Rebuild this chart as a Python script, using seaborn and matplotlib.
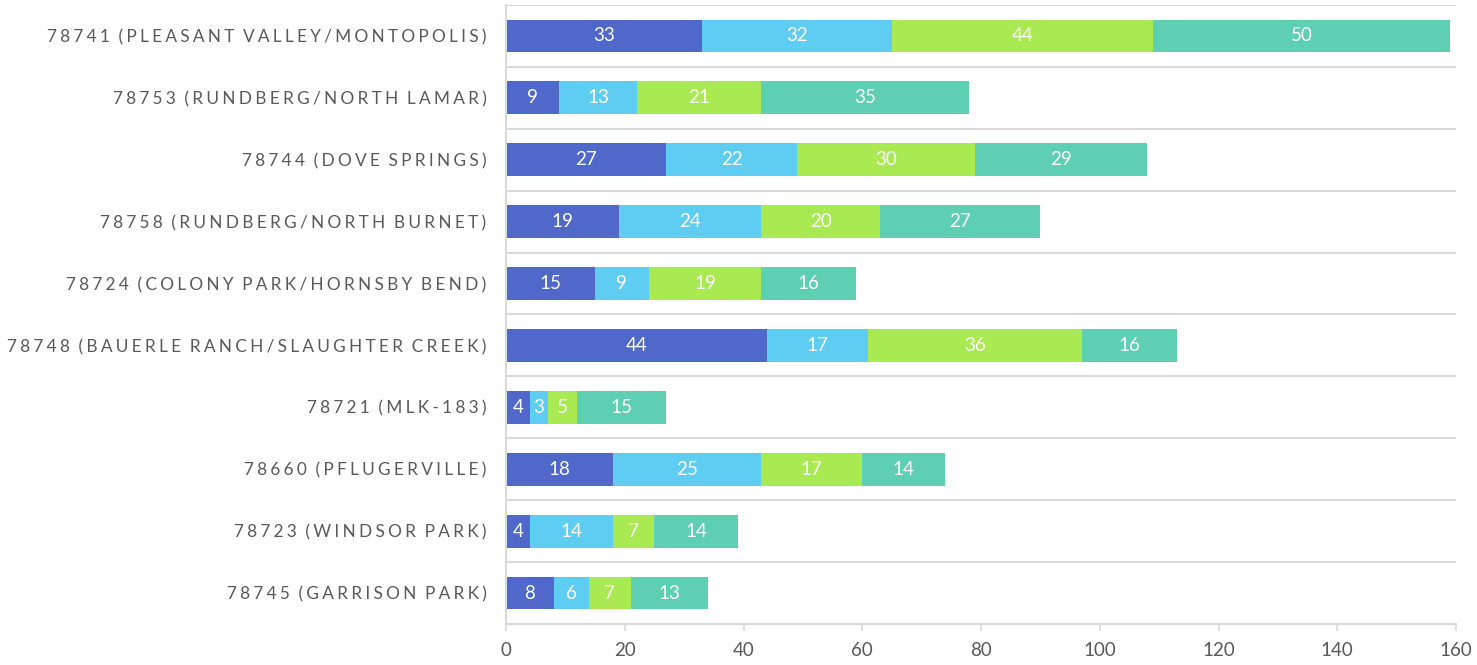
import numpy as np
import pandas as pd
import seaborn as sns
import matplotlib.pyplot as plt

# data
zip_labels = [
    "78741 (PLEASANT VALLEY/MONTOPOLIS)",
    "78753 (RUNDBERG/NORTH LAMAR)",
    "78744 (DOVE SPRINGS)",
    "78758 (RUNDBERG/NORTH BURNET)",
    "78724 (COLONY PARK/HORNSBY BEND)",
    "78748 (BAUERLE RANCH/SLAUGHTER CREEK)",
    "78721 (MLK-183)",
    "78660 (PFLUGERVILLE)",
    "78723 (WINDSOR PARK)",
    "78745 (GARRISON PARK)",
]
series_1 = [33, 9, 27, 19, 15, 44, 4, 18, 4, 8]
series_2 = [32, 13, 22, 24, 9, 17, 3, 25, 14, 6]
series_3 = [44, 21, 30, 20, 19, 36, 5, 17, 7, 7]
series_4 = [50, 35, 29, 27, 16, 16, 15, 14, 14, 13]
x_ticks = [0, 20, 40, 60, 80, 100, 120, 140, 160]

colors = ["#4F68C9", "#5FCCF2", "#A9EA52", "#5ECFB2"]

def spaced(s):
    # imitate the letter spacing of the original labels
    return "\u2009\u200a".join(s.replace(" ", "\u2009"))

def main():
    sns.set_theme(style="white")
    plt.rcParams["font.family"] = ["Lato", "DejaVu Sans"]

    series = [series_1, series_2, series_3, series_4]
    cums = np.cumsum(np.array(series), axis=0)
    df = pd.DataFrame({"zip": zip_labels})

    fig = plt.figure(figsize=(14.77, 6.65), dpi=100)
    ax = fig.add_axes([506 / 1477, 41 / 665, (1456 - 506) / 1477, (660 - 41) / 665])

    # stacked bars: draw cumulative totals from the outermost inwards
    for i in range(3, -1, -1):
        df["val"] = cums[i]
        sns.barplot(data=df, x="val", y="zip", color=colors[i], saturation=1,
                    width=0.53, orient="h", ax=ax, linewidth=0)

    for i, vals in enumerate(series):
        for j, v in enumerate(vals):
            ax.text(cums[i][j] - v / 2, j, str(v), ha="center", va="center",
                    color="white", fontsize=13.5)

    ax.set_xlim(0, 160)
    ax.set_ylim(len(zip_labels) - 0.5, -0.5)
    ax.set_xticks(x_ticks)
    ax.set_xticklabels([str(t) for t in x_ticks], fontsize=13.5, color="#595959")
    ax.set_yticks(range(len(zip_labels)))
    ax.set_yticklabels([spaced(z) for z in zip_labels], fontsize=12.4, color="#595959")
    ax.set_xlabel("")
    ax.set_ylabel("")

    for k in range(len(zip_labels)):
        ax.axhline(k - 0.5, color="#D9D9D9", linewidth=1.5, zorder=0)

    for s in ["top", "right"]:
        ax.spines[s].set_visible(False)
    for s in ["left", "bottom"]:
        ax.spines[s].set_color("#D9D9D9")
        ax.spines[s].set_linewidth(1.5)
    ax.tick_params(axis="x", bottom=True, length=5, color="#D9D9D9", width=1.2, pad=8)
    ax.tick_params(axis="y", left=False, pad=8)

    fig.savefig("out.png", dpi=100, facecolor="white")

if __name__ == "__main__":
    main()
